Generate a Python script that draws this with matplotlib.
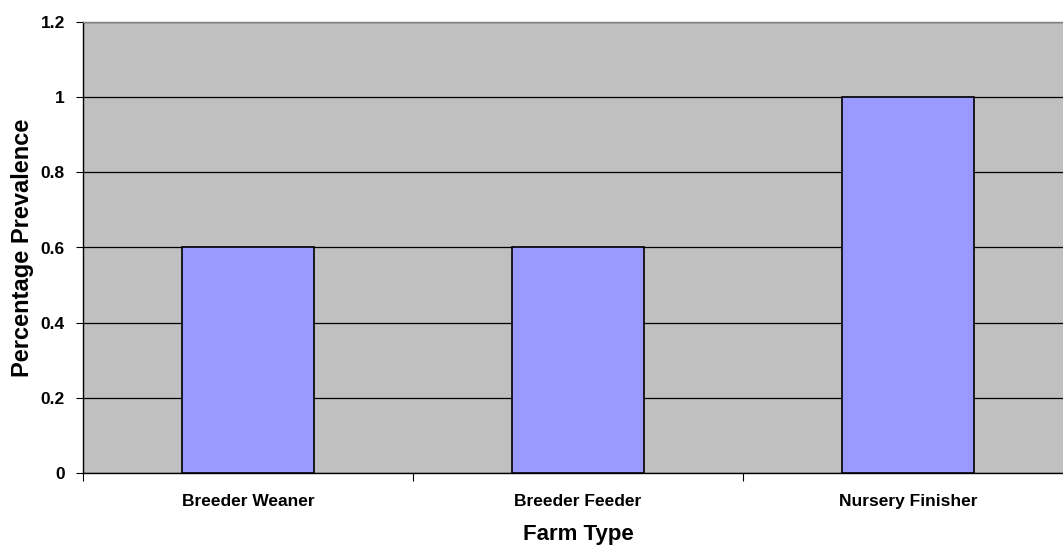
import numpy as np
import matplotlib.pyplot as plt

categories = ['Breeder Weaner', 'Breeder Feeder', 'Nursery Finisher']
prevalence = [0.6, 0.6, 1.0]
yticks = [0, 0.2, 0.4, 0.6, 0.8, 1, 1.2]
ytick_labels = ['0', '0.2', '0.4', '0.6', '0.8', '1', '1.2']

plt.rcParams['font.family'] = ['Liberation Sans', 'DejaVu Sans']

fig = plt.figure(figsize=(10.63, 5.49), dpi=100)
# plot area runs slightly off the right edge
ax = fig.add_axes([83 / 1063, 1 - 473 / 549, 990 / 1063, 451 / 549])
ax.set_facecolor('#c0c0c0')

x = np.arange(len(categories))
ax.bar(x, prevalence, width=0.4, color='#9999ff', edgecolor='black', linewidth=1.2, zorder=3)

ax.set_xlim(-0.5, len(categories) - 0.5)
ax.set_ylim(0, 1.2)
ax.set_yticks(yticks)
ax.set_yticklabels(ytick_labels, fontsize=12.5, fontweight='bold')
ax.yaxis.grid(True, color='black', linewidth=0.9, zorder=1)
ax.set_axisbelow(True)

# category labels centred, tick marks between categories
ax.set_xticks(x)
ax.set_xticklabels(categories, fontsize=12.5, fontweight='bold')
ax.tick_params(axis='x', length=0, pad=15)
ax.set_xticks(np.arange(-0.5, len(categories)), minor=True)
ax.tick_params(axis='x', which='minor', length=6, width=0.8, direction='out')
ax.tick_params(axis='y', length=5, width=0.8, direction='out', pad=8)

for s in ['left', 'bottom']:
    ax.spines[s].set_color('black')
    ax.spines[s].set_linewidth(1.0)
ax.spines['top'].set_color('#808080')
ax.spines['top'].set_linewidth(1.0)
ax.spines['right'].set_visible(False)

ax.set_xlabel('Farm Type', fontsize=16, fontweight='bold', labelpad=11)
ax.set_ylabel('Percentage Prevalence', fontsize=17, fontweight='bold', labelpad=5)

fig.savefig('out.png', dpi=100)
